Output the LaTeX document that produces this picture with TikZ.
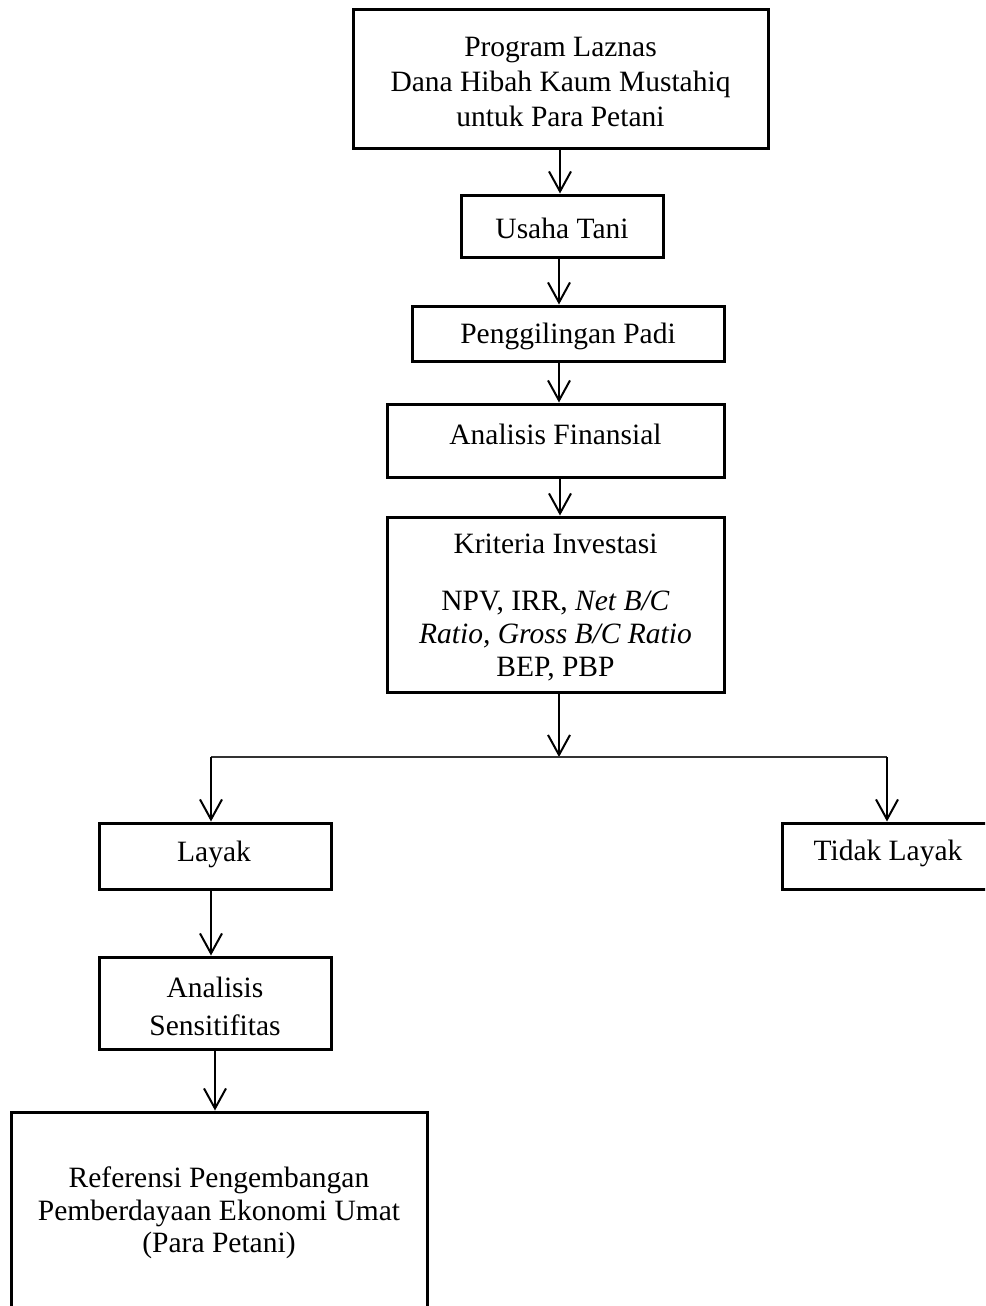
\documentclass[tikz,border=0pt]{standalone}
\usepackage{fontspec}
\setmainfont{Liberation Serif}
\usetikzlibrary{arrows.meta}
\begin{document}
\begin{tikzpicture}[x=1pt,y=-1pt,
 box/.style={draw, line width=3pt, rectangle, inner sep=0pt},
 txt/.style={align=center, inner sep=0pt, font=\fontsize{29.5}{35}\selectfont},
 arr/.style={line width=2pt, -{Straight Barb[length=20pt,width=22pt,line width=2pt]}},
 hline/.style={line width=1.8pt, draw=black!80}]
\useasboundingbox (0,0) rectangle (985,1306);
\clip (0,0) rectangle (985,1306);
% boxes
\node[box, minimum width=415pt, minimum height=138pt] (b1) at (560.5,79) {};
\node[box, minimum width=202pt, minimum height=62pt] (b2) at (562,226) {};
\node[box, minimum width=312pt, minimum height=55pt] (b3) at (568,333.5) {};
\node[box, minimum width=337pt, minimum height=73pt] (b4) at (555.5,440.5) {};
\node[box, minimum width=337pt, minimum height=175pt] (b5) at (555.5,604.5) {};
\node[box, minimum width=232pt, minimum height=66pt] (lay) at (215,856) {};
\node[box, minimum width=211pt, minimum height=66pt] (tl) at (887.5,856) {};
\node[box, minimum width=232pt, minimum height=92pt] (sens) at (215,1003) {};
\node[box, minimum width=416pt, minimum height=208pt] (fin) at (219,1216) {};
% texts
\node[txt] (t1) at (560.5,82) {Program Laznas\\Dana Hibah Kaum Mustahiq\\untuk Para Petani};
\node[txt] (t2) at (562,228) {Usaha Tani};
\node[txt] (t3) at (568,336) {Penggilingan Padi};
\node[txt] (t4) at (555.5,434) {Analisis Finansial};
\node[txt, font=\fontsize{29.5}{33}\selectfont] (t5) at (555.5,607) {Kriteria Investasi\\[24pt]NPV, IRR, \textit{Net B/C}\\\textit{Ratio, Gross B/C Ratio}\\BEP, PBP};
\node[txt] (t6) at (214,854) {Layak};
\node[txt] (t7) at (888,853) {Tidak Layak};
\node[txt, font=\fontsize{29.5}{38}\selectfont] (t8) at (215,1006) {Analisis\\Sensitifitas};
\node[txt, font=\fontsize{29.5}{32.5}\selectfont] (t9) at (219,1213) {Referensi Pengembangan\\Pemberdayaan Ekonomi Umat\\(Para Petani)};
% connectors
\coordinate (j) at (559,757);
\coordinate (jl) at (211,757);
\coordinate (jr) at (887,757);
\draw[arr] (560,148) coordinate (s1) -- (s1 |- b2.north);
\draw[arr] (559,257) coordinate (s2) -- (s2 |- b3.north);
\draw[arr] (559,361) coordinate (s3) -- (s3 |- b4.north);
\draw[arr] (560,477) coordinate (s4) -- (s4 |- b5.north);
\draw[arr] (j |- b5.south) -- (j);
\draw[hline] (jl) -- (jr);
\draw[arr] (jl) -- (jl |- lay.north);
\draw[arr] (jr) -- (jr |- tl.north);
\draw[arr] (jl |- lay.south) -- (jl |- sens.north);
\draw[arr] (sens.south) -- (sens.south |- fin.north);
\end{tikzpicture}
\end{document}
